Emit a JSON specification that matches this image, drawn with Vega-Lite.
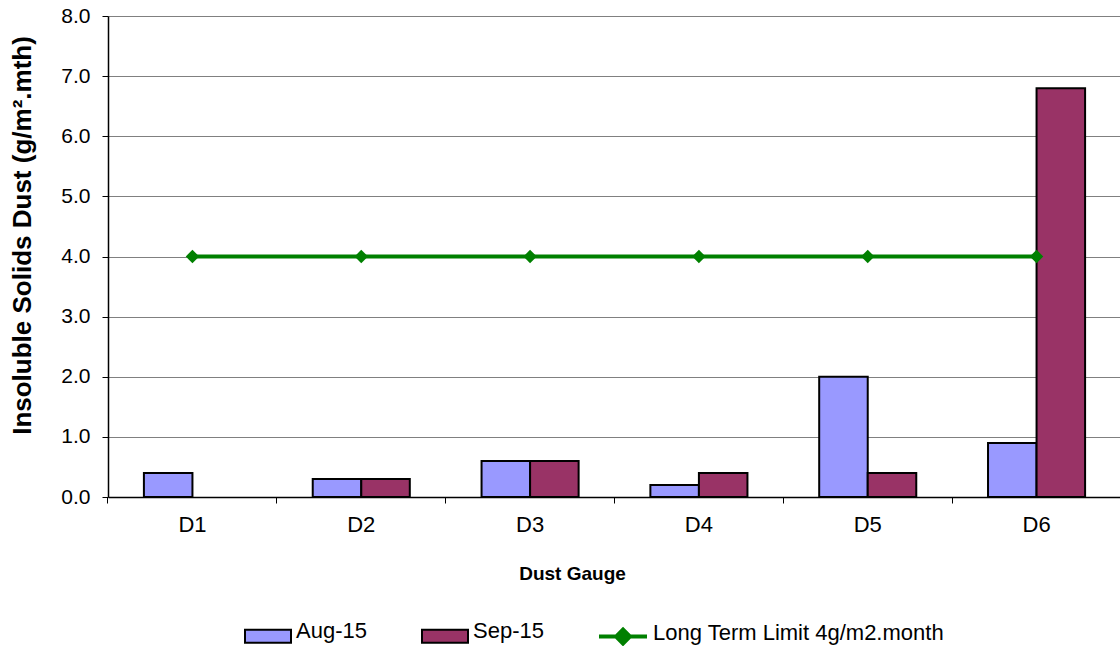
{
  "$schema": "https://vega.github.io/schema/vega-lite/v6.json",
  "width": 1013,
  "height": 481,
  "autosize": {"type": "none"},
  "padding": {"left": 108, "top": 16, "right": 0, "bottom": 149},
  "background": "white",
  "config": {
    "font": "Liberation Sans",
    "view": {"stroke": null},
    "axis": {"labelColor": "black", "titleColor": "black", "domainColor": "black", "tickColor": "black"}
  },
  "datasets": {
    "bars": [
      {"gauge": "D1", "month": "Aug-15", "value": 0.4},
      {"gauge": "D2", "month": "Aug-15", "value": 0.3},
      {"gauge": "D2", "month": "Sep-15", "value": 0.3},
      {"gauge": "D3", "month": "Aug-15", "value": 0.6},
      {"gauge": "D3", "month": "Sep-15", "value": 0.6},
      {"gauge": "D4", "month": "Aug-15", "value": 0.2},
      {"gauge": "D4", "month": "Sep-15", "value": 0.4},
      {"gauge": "D5", "month": "Aug-15", "value": 2.0},
      {"gauge": "D5", "month": "Sep-15", "value": 0.4},
      {"gauge": "D6", "month": "Aug-15", "value": 0.9},
      {"gauge": "D6", "month": "Sep-15", "value": 6.8}
    ],
    "limit": [
      {"gauge": "D1", "series": "Long Term Limit 4g/m2.month", "value": 4},
      {"gauge": "D2", "series": "Long Term Limit 4g/m2.month", "value": 4},
      {"gauge": "D3", "series": "Long Term Limit 4g/m2.month", "value": 4},
      {"gauge": "D4", "series": "Long Term Limit 4g/m2.month", "value": 4},
      {"gauge": "D5", "series": "Long Term Limit 4g/m2.month", "value": 4},
      {"gauge": "D6", "series": "Long Term Limit 4g/m2.month", "value": 4}
    ]
  },
  "layer": [
    {
      "data": {"name": "bars"},
      "mark": {"type": "bar", "stroke": "black", "strokeWidth": 2},
      "encoding": {
        "x": {
          "field": "gauge", "type": "nominal", "sort": ["D1", "D2", "D3", "D4", "D5", "D6"],
          "scale": {"paddingInner": 0.425, "paddingOuter": 0.2127},
          "axis": {
            "ticks": false, "labelAngle": 0, "labelFontSize": 22, "labelPadding": 17,
            "domainWidth": 1.5, "title": "Dust Gauge", "titleFontSize": 19, "titleFontWeight": "bold",
            "titleX": 464, "titleY": 76, "titleAlign": "center", "titleBaseline": "middle"
          }
        },
        "xOffset": {"field": "month", "type": "nominal", "sort": ["Aug-15", "Sep-15"], "scale": {"paddingInner": 0, "paddingOuter": 0}},
        "y": {
          "field": "value", "type": "quantitative",
          "scale": {"domain": [0, 8], "nice": false},
          "axis": {
            "values": [0, 1, 2, 3, 4, 5, 6, 7, 8], "format": ".1f", "labelFontSize": 21,
            "tickSize": 6, "labelPadding": 12, "domainWidth": 1.5,
            "grid": true, "gridColor": "#808080", "gridWidth": 1,
            "title": "Insoluble Solids Dust (g/m².mth)", "titleFontSize": 26, "titleFontWeight": "bold",
            "titleX": -86, "titleY": 219, "titleAlign": "center", "titleBaseline": "middle", "titleAngle": -90
          }
        },
        "fill": {
          "field": "month", "type": "nominal",
          "scale": {"domain": ["Aug-15", "Sep-15"], "range": ["#9999FF", "#993366"]},
          "legend": {
            "orient": "none", "legendX": 136, "legendY": 591, "direction": "horizontal", "title": null,
            "symbolType": "M-1,-0.06H1V0.5H-1Z", "symbolSize": 2116,
            "symbolStrokeColor": "black", "symbolStrokeWidth": 2,
            "labelFontSize": 22, "labelColor": "black", "labelOffset": 4, "labelLimit": 300,
            "columnPadding": 51, "padding": 0
          }
        }
      }
    },
    {
      "data": {"name": "limit"},
      "mark": {"type": "line", "strokeWidth": 4},
      "encoding": {
        "x": {
          "field": "gauge", "type": "nominal", "sort": ["D1", "D2", "D3", "D4", "D5", "D6"],
          "axis": {"orient": "bottom", "labels": false, "ticks": true, "tickSize": 6, "bandPosition": -0.37, "domain": false, "title": null, "tickWidth": 1}
        },
        "y": {"field": "value", "type": "quantitative"},
        "stroke": {
          "field": "series", "type": "nominal",
          "scale": {"range": ["#008000"]},
          "legend": {
            "orient": "none", "legendX": 489, "legendY": 591, "direction": "horizontal", "title": null,
            "symbolType": "M-1,0.15H1M-0.29,0.15L0,-0.14L0.29,0.15L0,0.44Z", "symbolSize": 2304,
            "symbolStrokeWidth": 4, "symbolFillColor": "#008000",
            "labelFontSize": 22, "labelColor": "black", "labelOffset": 4, "labelLimit": 400, "padding": 0,
            "encode": {"symbols": {"update": {"fill": {"value": "#008000"}, "stroke": {"value": "#008000"}}}}
          }
        }
      }
    },
    {
      "data": {"name": "limit"},
      "mark": {"type": "point", "shape": "diamond", "filled": true, "color": "#008000", "size": 180, "opacity": 1},
      "encoding": {
        "x": {"field": "gauge", "type": "nominal", "sort": ["D1", "D2", "D3", "D4", "D5", "D6"], "axis": null},
        "y": {"field": "value", "type": "quantitative"}
      }
    }
  ],
  "resolve": {"axis": {"x": "independent"}}
}
